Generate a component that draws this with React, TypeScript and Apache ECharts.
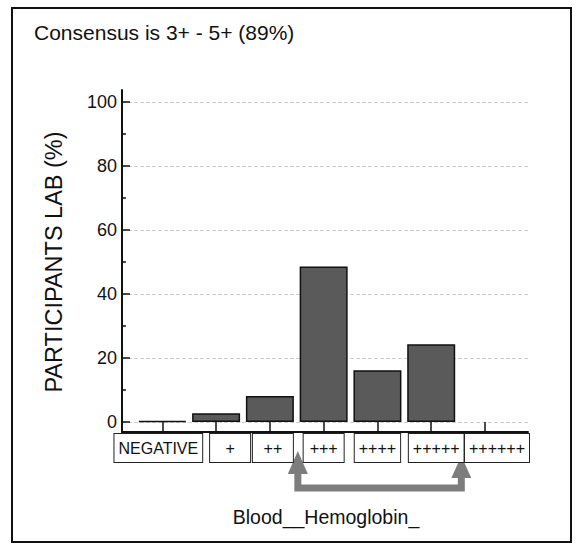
import React, { useEffect, useRef } from "react";
import * as echarts from "echarts";

const categories = ["NEGATIVE", "+", "++", "+++", "++++", "+++++", "++++++"];
const percentages: (number | null)[] = [0, 2.7, 8.1, 48.6, 16.2, 24.3, null];
const yMajorTicks = [0, 20, 40, 60, 80, 100];
const yMinorTicks = [10, 30, 50, 70, 90];
const titleText = "Consensus is 3+ - 5+ (89%)";
const yName = "PARTICIPANTS LAB (%)";
const xName = "Blood__Hemoglobin_";

// layout only: horizontal shift (px) of each boxed category label relative to its tick
const labelShift = [-4, 14, 3, 0, 0, 5, 12];

const FONT = "'Liberation Sans', Arial, sans-serif";

export default function App() {
  const ref = useRef<HTMLDivElement>(null);
  useEffect(() => {
    document.body.style.margin = "0";
    if (!ref.current) return;
    const chart = echarts.init(ref.current, null, { renderer: "svg" });
    const catIdx = categories.map((_, i) => i);
    const evenIdx = catIdx.filter((i) => i % 2 === 0);
    const oddIdx = catIdx.filter((i) => i % 2 === 1);

    const boxStyle = {
      fontSize: 16,
      fontFamily: FONT,
      color: "#111",
      padding: [6, 4],
      borderColor: "#222",
      borderWidth: 1,
      backgroundColor: "#fff",
    };
    const rich: Record<string, any> = {
      s: { ...boxStyle, width: 32, align: "center" },
      n: { ...boxStyle },
    };
    labelShift.forEach((s, i) => {
      rich["g" + i] = { width: Math.max(1, Math.abs(s) * 2), fontSize: 16, fontFamily: FONT };
    });
    const fmt = (v: number) => {
      const i = Math.round(v);
      const t = categories[i];
      const box = t.length <= 3 ? `{s|${t}}` : `{n|${t}}`;
      const sh = labelShift[i];
      if (sh > 0) return `{g${i}| }${box}`;
      if (sh < 0) return `${box}{g${i}| }`;
      return box;
    };
    const labelBase = {
      showMinLabel: true,
      showMaxLabel: true,
      hideOverlap: false,
      margin: 2,
      formatter: fmt,
      rich,
    };

    chart.setOption({
      animation: false,
      backgroundColor: "#ffffff",
      title: {
        text: titleText,
        left: 34,
        top: 22,
        padding: 0,
        textStyle: { fontFamily: FONT, fontSize: 21, fontWeight: "normal", color: "#111" },
      },
      grid: { left: 122, right: 52, top: 90, bottom: 117 },
      xAxis: [
        {
          type: "value",
          min: -0.75,
          max: 6.8,
          position: "bottom",
          axisLine: { show: true, onZero: false, lineStyle: { color: "#111", width: 2 } },
          axisTick: {
            show: true,
            inside: true,
            length: 10,
            customValues: catIdx,
            lineStyle: { color: "#111", width: 1.5 },
          },
          splitLine: { show: false },
          axisLabel: { ...labelBase, customValues: evenIdx },
        },
        {
          type: "value",
          min: -0.75,
          max: 6.8,
          position: "bottom",
          offset: 0,
          axisLine: { show: false, onZero: false },
          axisTick: { show: false },
          splitLine: { show: false },
          axisLabel: { ...labelBase, customValues: oddIdx },
        },
      ],
      yAxis: [
        {
          type: "value",
          min: -3.125,
          max: 103.75,
          axisLine: { show: true, onZero: false, lineStyle: { color: "#111", width: 2 } },
          axisTick: {
            show: true,
            inside: true,
            length: 8,
            customValues: yMajorTicks,
            lineStyle: { color: "#111", width: 1.5 },
          },
          axisLabel: {
            customValues: yMajorTicks,
            fontSize: 18,
            fontFamily: FONT,
            color: "#111",
            margin: 5,
          },
          splitLine: { show: true, lineStyle: { color: "#cfcfcf", type: "dashed", width: 1 } },
        },
        {
          type: "value",
          min: -3.125,
          max: 103.75,
          position: "left",
          offset: 0,
          axisLine: { show: false, onZero: false },
          axisTick: {
            show: true,
            inside: true,
            length: 4,
            customValues: yMinorTicks,
            lineStyle: { color: "#111", width: 1.5 },
          },
          axisLabel: { show: false },
          splitLine: { show: false },
        },
      ],
      series: [
        {
          type: "bar",
          xAxisIndex: 0,
          yAxisIndex: 0,
          barWidth: 48,
          barMinHeight: 1,
          data: percentages.map((v, i) => [i, v === null ? "-" : v]),
          itemStyle: { color: "#5a5a5a", borderColor: "#111", borderWidth: 1.5 },
        },
      ],
    });

    const arrowFrom = 2.52;
    const arrowTo = 5.56;
    const xl = chart.convertToPixel({ xAxisIndex: 0 }, arrowFrom) as number;
    const xr = chart.convertToPixel({ xAxisIndex: 0 }, arrowTo) as number;
    const arrowColor = "#7d7d7d";
    chart.setOption({
      graphic: [
        {
          type: "rect",
          shape: { x: 12, y: 8, width: 559, height: 534 },
          style: { fill: "none", stroke: "#111", lineWidth: 2 },
          silent: true,
        },
        {
          type: "text",
          x: 54,
          y: 262,
          rotation: Math.PI / 2,
          style: {
            text: yName,
            font: `23.5px ${FONT}`,
            fill: "#111",
            align: "center",
            verticalAlign: "middle",
          },
        },
        {
          type: "text",
          x: 326,
          y: 517,
          style: {
            text: xName,
            font: `19.5px ${FONT}`,
            fill: "#111",
            align: "center",
            verticalAlign: "middle",
          },
        },
        {
          type: "polyline",
          shape: { points: [[xl, 470], [xl, 488], [xr, 488], [xr, 474]] },
          style: { stroke: arrowColor, lineWidth: 7, fill: "none", lineJoin: "miter" },
        },
        {
          type: "polygon",
          shape: { points: [[xl, 451], [xl - 10, 474], [xl + 10, 474]] },
          style: { fill: arrowColor },
        },
        {
          type: "polygon",
          shape: { points: [[xr, 456], [xr - 10, 478], [xr + 10, 478]] },
          style: { fill: arrowColor },
        },
      ],
    });
    return () => chart.dispose();
  }, []);
  return <div ref={ref} style={{ width: 580, height: 549 }} />;
}
